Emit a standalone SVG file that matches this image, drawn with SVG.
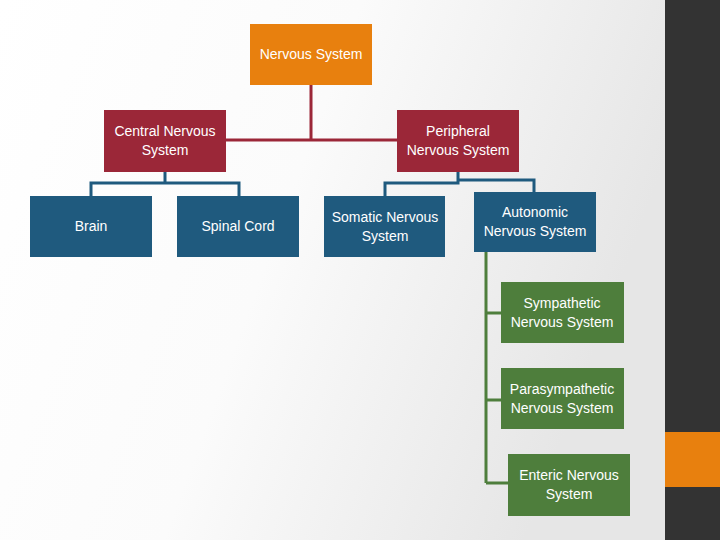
<svg xmlns="http://www.w3.org/2000/svg" width="720" height="540" viewBox="0 0 720 540">
<defs>
<linearGradient id="bg" x1="0" y1="0" x2="1" y2="0.3">
<stop offset="0" stop-color="#ffffff"/><stop offset="0.5" stop-color="#fbfbfb"/><stop offset="1" stop-color="#e6e6e6"/>
</linearGradient>
<style>
text{font-family:"Liberation Sans",Arial,sans-serif;font-size:14px;fill:#fff;text-anchor:middle}
.o{fill:#E8800E}.r{fill:#9B2738}.b{fill:#1F5A7E}.g{fill:#4E7E3C}
.cr{stroke:#9B2738}.cb{stroke:#1F5A7E}.cg{stroke:#4E7E3C}
#connectors path{fill:none;stroke-width:3}
</style>
</defs>
<rect width="665" height="540" fill="url(#bg)"/>
<rect x="665" width="55" height="540" fill="#333333"/>
<rect x="665" y="432" width="55" height="55" fill="#E8800E"/>
<g id="connectors">
<path class="cr" d="M311 85V140M226 140H397"/>
<path class="cb" d="M165 172V183M91 196V183H239V196M458 172V183H385V196M458 180H534V192"/>
<path class="cg" d="M486 252V483M486 313H501M486 400H501M486 483H508"/>
</g>
<g id="n-ns"><rect class="o" x="250" y="24" width="122" height="61"/><text x="311" y="59">Nervous System</text></g>
<g id="n-cns"><rect class="r" x="104" y="110" width="122" height="62"/><text x="165" y="136">Central Nervous</text><text x="165" y="155">System</text></g>
<g id="n-pns"><rect class="r" x="397" y="110" width="122" height="62"/><text x="458" y="136">Peripheral</text><text x="458" y="155">Nervous System</text></g>
<g id="n-brain"><rect class="b" x="30" y="196" width="122" height="61"/><text x="91" y="231">Brain</text></g>
<g id="n-spinal"><rect class="b" x="177" y="196" width="122" height="61"/><text x="238" y="231">Spinal Cord</text></g>
<g id="n-somatic"><rect class="b" x="324" y="196" width="121" height="61"/><text x="385" y="222">Somatic Nervous</text><text x="385" y="241">System</text></g>
<g id="n-auto"><rect class="b" x="474" y="192" width="122" height="60"/><text x="535" y="217">Autonomic</text><text x="535" y="236">Nervous System</text></g>
<g id="n-symp"><rect class="g" x="501" y="282" width="123" height="61"/><text x="562" y="308">Sympathetic</text><text x="562" y="327">Nervous System</text></g>
<g id="n-para"><rect class="g" x="501" y="368" width="123" height="61"/><text x="562" y="394">Parasympathetic</text><text x="562" y="413">Nervous System</text></g>
<g id="n-ent"><rect class="g" x="508" y="454" width="122" height="62"/><text x="569" y="480">Enteric Nervous</text><text x="569" y="499">System</text></g>
</svg>
